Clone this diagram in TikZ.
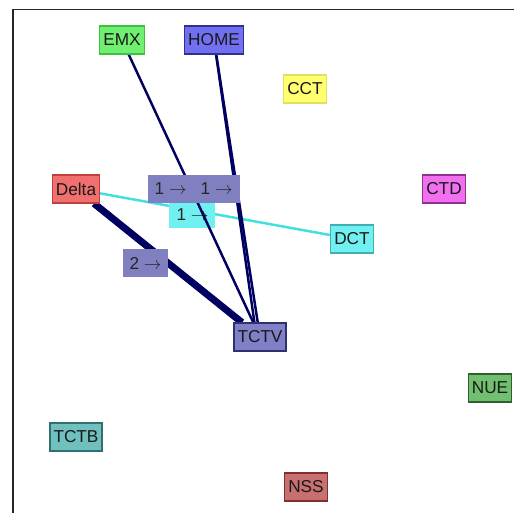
\documentclass[tikz,border=0pt]{standalone}
\usepackage{fontspec}
\setmainfont{Liberation Sans}
\usepackage{tikz}
\definecolor{edgeblue}{HTML}{000060}
\definecolor{edgecyan}{HTML}{40E0E0}
\definecolor{lblblue}{HTML}{8080C0}
\tikzset{
    vert/.style={rectangle, draw, line width=0.6pt, minimum height=0.56cm,
    	inner xsep=0.07cm, inner ysep=0pt, text=black!90,
    	font=\fontsize{9.8}{11}\selectfont}
}
\tikzset{
    lbl/.style={rectangle, fill=lblblue, minimum height=0.56cm,
    	minimum width=0.92cm, inner sep=0pt, text=black!85,
    	font=\fontsize{9.8}{11}\selectfont}
}
\tikzset{
    link/.style={line width=1.4pt, color=edgeblue}
}
\pgfdeclarelayer{background}
\pgfsetlayers{background,main}

\begin{document}
\begin{tikzpicture}[x=0.02cm, y=-0.02cm]
	\useasboundingbox (0,0) rectangle (514,513);
	\draw [line width=1.1pt, color=black!85] (13,513) -- (13,9.5) -- (514,9.5);

	\node (EMX) [vert, fill={rgb,255:red,112;green,240;blue,112}, draw={rgb,255:red,64;green,192;blue,64}] at (122,40) {EMX};
	\node (HOME) [vert, fill={rgb,255:red,112;green,112;blue,240}, draw={rgb,255:red,48;green,48;blue,144}] at (214,40) {HOME};
	\node (CCT) [vert, fill={rgb,255:red,255;green,255;blue,112}, draw={rgb,255:red,224;green,224;blue,96}] at (305,89) {CCT};
	\node (Delta) [vert, fill={rgb,255:red,240;green,112;blue,112}, draw={rgb,255:red,192;green,64;blue,64}] at (76,189) {Delta};
	\node (CTD) [vert, fill={rgb,255:red,240;green,112;blue,240}, draw={rgb,255:red,144;green,48;blue,144}] at (444,189) {CTD};
	\node (DCT) [vert, fill={rgb,255:red,112;green,240;blue,240}, draw={rgb,255:red,64;green,176;blue,176}] at (352,239) {DCT};
	\node (TCTV) [vert, fill={rgb,255:red,128;green,128;blue,200}, draw={rgb,255:red,48;green,48;blue,112}] at (260,337) {TCTV};
	\node (NUE) [vert, fill={rgb,255:red,112;green,192;blue,112}, draw={rgb,255:red,48;green,96;blue,48}] at (490,388) {NUE};
	\node (TCTB) [vert, fill={rgb,255:red,112;green,192;blue,192}, draw={rgb,255:red,48;green,112;blue,112}] at (76,437) {TCTB};
	\node (NSS) [vert, fill={rgb,255:red,200;green,112;blue,112}, draw={rgb,255:red,128;green,48;blue,48}] at (306,487) {NSS};

	\begin{pgfonlayer}{background}
	\draw [line width=1.4pt, color=edgecyan] (Delta) -- node (l4) [lbl, fill={rgb,255:red,112;green,240;blue,240}, anchor=east, xshift=0.03cm] {1 $\rightarrow$} (DCT);
	\draw [link] (EMX) -- (TCTV);
	\draw [link] (HOME) -- (TCTV);
	\draw [link] (HOME.center) -- ([xshift=-0.07cm]TCTV.center);
	\node (l1) [lbl, anchor=east] at (194,189) {1 $\rightarrow$};
	\node (l2) [lbl, anchor=east] at (240,189) {1 $\rightarrow$};
	\draw [link, line width=4pt] (Delta) -- node (l3) [lbl, anchor=east, xshift=0.08cm] {2 $\rightarrow$} (TCTV);
	\end{pgfonlayer}
\end{tikzpicture}
\end{document}
